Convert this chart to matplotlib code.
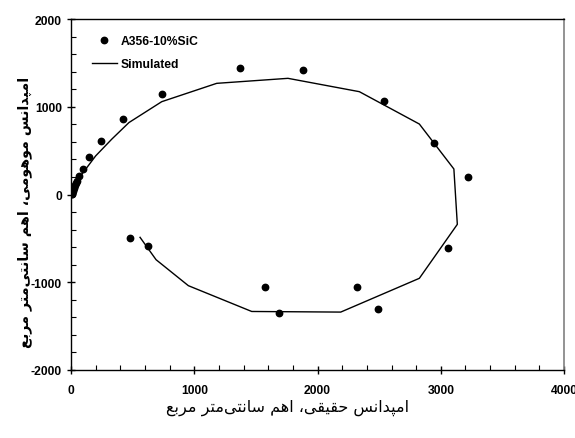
import matplotlib
matplotlib.use("Agg")
import matplotlib.pyplot as plt
from matplotlib.ticker import MultipleLocator

plt.rcParams["axes.unicode_minus"] = False

# ---------------- data ----------------
exp_re = [5, 8, 11, 14, 18, 23, 28, 34, 40, 48, 62, 95, 144, 246, 422, 741, 1371,
          1880, 2540, 2945, 3224, 3061, 2494, 2318, 1690, 1574, 627, 479]
exp_im = [2, 10, 22, 36, 52, 70, 90, 112, 135, 155, 207, 291, 431, 608, 856, 1149, 1442,
          1422, 1062, 587, 203, -613, -1305, -1058, -1350, -1058, -583, -496]

sim_re = [0, 40, 90, 200, 330, 470, 736, 1182, 1760, 2339, 2826, 3106, 3134,
          2826, 2188, 1466, 952, 690, 560]
sim_im = [0, 120, 235, 440, 630, 820, 1058, 1267, 1324, 1172, 803, 291, -340,
          -955, -1340, -1333, -1039, -743, -488]

xlabel_fa = "امپدانس حقیقی، اهم سانتی\u200cمتر مربع"
ylabel_fa = "امپدانس موهومی، اهم سانتی\u200cمتر مربع"
legend_labels = ["A356-10%SiC", "Simulated"]

# ---------------- simple Arabic/Persian shaping ----------------
FORMS = {  # isolated, final, initial, medial
    "\u0627": (0xFE8D, 0xFE8E, None, None),
    "\u0628": (0xFE8F, 0xFE90, 0xFE91, 0xFE92),
    "\u062A": (0xFE95, 0xFE96, 0xFE97, 0xFE98),
    "\u062D": (0xFEA1, 0xFEA2, 0xFEA3, 0xFEA4),
    "\u062F": (0xFEA9, 0xFEAA, None, None),
    "\u0631": (0xFEAD, 0xFEAE, None, None),
    "\u0633": (0xFEB1, 0xFEB2, 0xFEB3, 0xFEB4),
    "\u0639": (0xFEC9, 0xFECA, 0xFECB, 0xFECC),
    "\u0642": (0xFED5, 0xFED6, 0xFED7, 0xFED8),
    "\u0645": (0xFEE1, 0xFEE2, 0xFEE3, 0xFEE4),
    "\u0646": (0xFEE5, 0xFEE6, 0xFEE7, 0xFEE8),
    "\u0647": (0xFEE9, 0xFEEA, 0xFEEB, 0xFEEC),
    "\u0648": (0xFEED, 0xFEEE, None, None),
    "\u06CC": (0xFBFC, 0xFBFD, 0xFBFE, 0xFBFF),
    "\u067E": (0xFB56, 0xFB57, 0xFB58, 0xFB59),
}


def shape(text):
    out = []
    n = len(text)
    for i, ch in enumerate(text):
        if ch == "\u200c":
            continue
        if ch not in FORMS:
            out.append(ch)
            continue
        f = FORMS[ch]
        prev = text[i - 1] if i > 0 else ""
        nxt = text[i + 1] if i + 1 < n else ""
        join_prev = prev in FORMS and FORMS[prev][2] is not None
        join_next = f[2] is not None and nxt in FORMS
        if join_prev and join_next:
            code = f[3]
        elif join_prev:
            code = f[1]
        elif join_next:
            code = f[2]
        else:
            code = f[0]
        out.append(chr(code))
    return "".join(reversed(out))


# ---------------- figure ----------------
fig = plt.figure(figsize=(5.75, 4.39), dpi=100)
ax = fig.add_axes([0.1235, 0.1549, 0.8575, 0.7995])

ax.plot(sim_re, sim_im, color="black", lw=1.0, label=legend_labels[1], zorder=2)
ax.plot(exp_re, exp_im, ls="none", marker="o", ms=4.6, color="black",
        label=legend_labels[0], zorder=3)

ax.set_xlim(0, 4000)
ax.set_ylim(-2000, 2000)
ax.xaxis.set_major_locator(MultipleLocator(1000))
ax.xaxis.set_minor_locator(MultipleLocator(200))
ax.yaxis.set_major_locator(MultipleLocator(1000))
ax.yaxis.set_minor_locator(MultipleLocator(200))
ax.tick_params(which="major", direction="inout", length=6, width=1.0)
ax.tick_params(which="minor", direction="in", length=3.5, width=0.8)
ax.tick_params(axis="x", which="major", pad=7)
ax.tick_params(axis="y", which="major", pad=3.5)

for lab in ax.get_xticklabels() + ax.get_yticklabels():
    lab.set_family("Liberation Sans")
    lab.set_fontweight("bold")
    lab.set_fontsize(8.7)

for s in ["left", "bottom", "top"]:
    ax.spines[s].set_color("black")
    ax.spines[s].set_linewidth(1.0)
ax.spines["right"].set_color("#808080")
ax.spines["right"].set_linewidth(1.2)

handles, labels = ax.get_legend_handles_labels()
leg = ax.legend(handles[::-1], labels[::-1], loc="upper left",
                bbox_to_anchor=(0.02, 0.985), frameon=False,
                prop={"family": "Liberation Sans", "weight": "bold", "size": 8.7},
                handlelength=2.1, labelspacing=0.9, handletextpad=0.3)

fig.text(0.50, 0.07, shape(xlabel_fa), ha="center", va="center",
         fontsize=11.5, family="DejaVu Sans")
fig.text(0.042, 0.515, shape(ylabel_fa), ha="center", va="center",
         rotation=90, fontsize=10.3, family="DejaVu Sans", fontweight="bold")

fig.savefig("out.png", dpi=100)
